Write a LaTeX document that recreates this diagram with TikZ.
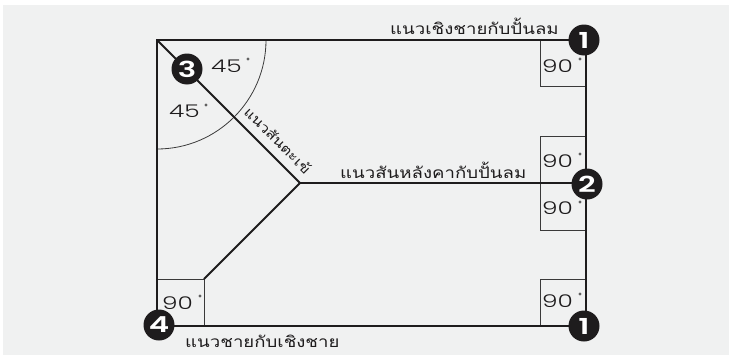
\documentclass[tikz,border=0pt]{standalone}
\usepackage{fontspec}
\setmainfont{Liberation Sans}
\newfontfamily\thaifont[Script=Thai,FakeStretch=1.2]{Loma}
\newfontfamily\numfont[FakeStretch=1.42]{Poppins Light}
\newfontfamily\badgefont[FakeStretch=1.4]{Poppins SemiBold}
\definecolor{bgpaper}{HTML}{F0F1F1}
\definecolor{inkline}{HTML}{1E1C1D}
\definecolor{thinline}{HTML}{3A3A3A}
\tikzset{
  roofline/.style={draw=inkline,line width=2.1pt},
  thin line/.style={draw=thinline,line width=0.8pt},
  thailabel/.style={font=\thaifont\fontsize{15.5}{16}\selectfont,text=inkline,inner sep=0pt},
  deg/.style={font=\numfont\fontsize{17.5}{18}\selectfont,text=inkline,inner sep=0pt},
  degmark/.style={circle,fill=thinline!80,minimum size=3.4pt,inner sep=0pt},
  badge/.style={circle,fill=inkline,text=white,minimum size=31pt,inner sep=0pt,font=\badgefont\fontsize{22}{22}\selectfont}
}
\begin{document}
\begin{tikzpicture}[x=1pt,y=-1pt]
\useasboundingbox (0,0) rectangle (729,359);
\fill[bgpaper] (3,5) rectangle (729,355);
% corners and junctions
\coordinate (tl) at (157,40);
\coordinate (tr) at (586,40);
\coordinate (br) at (586,326);
\coordinate (bl) at (157,326);
\coordinate (ridge) at (300,183);
\coordinate (mid) at (586,183);
\coordinate (valley) at (204,279);
% thin construction lines
\draw[thin line] (tl) ++(109,0) arc[start angle=0,end angle=90,radius=109];
\draw[thin line] (540,40) |- (586,86);
\draw[thin line] (540,183) |- (586,136);
\draw[thin line] (540,183) |- (586,230);
\draw[thin line] (540,326) |- (586,279);
\draw[thin line] (157,279) -| (204,326);
% heavy roof lines
\draw[roofline,line cap=round,line join=miter] (tl) -- (tr) -- (br) -- (bl) -- cycle;
\draw[roofline] (tl) -- (ridge);
\draw[roofline] (ridge) -- (mid);
\draw[roofline] (ridge) -- (valley);
% texts
\node[thailabel,anchor=base west] (t1) at (390,34) {แนวเชิงชายกับปั้นลม};
\node[thailabel,anchor=base west] (t2) at (340,178) {แนวสันหลังคากับปั้นลม};
\node[thailabel,anchor=base west] (t3) at (185,347) {แนวชายกับเชิงชาย};
\node[thailabel,font=\thaifont\fontsize{13.5}{14}\selectfont,anchor=center,rotate=-45] (t4) at (278,140) {แนวสันตะเข้};
% angles
\node[deg,anchor=base west] (a1) at (211,72) {45};
\node[degmark] (a1d) at (248,59) {};
\node[deg,anchor=base west] (a2) at (169,117) {45};
\node[degmark] (a2d) at (206,105) {};
\node[deg,anchor=base west] (r1) at (542,72) {90};
\node[degmark] (r1d) at (580,59) {};
\node[deg,anchor=base west] (r2) at (542,167) {90};
\node[degmark] (r2d) at (580,154) {};
\node[deg,anchor=base west] (r3) at (542,214) {90};
\node[degmark] (r3d) at (580,202) {};
\node[deg,anchor=base west] (r4) at (542,307) {90};
\node[degmark] (r4d) at (580,294) {};
\node[deg,anchor=base west] (r5) at (162,309) {90};
\node[degmark] (r5d) at (200,296) {};
% badges
\node[badge] (b1) at (584,40) {1};
\node[badge] (b2) at (587,184) {2};
\node[badge] (b3) at (187,69) {3};
\node[badge] (b4) at (159,325) {4};
\node[badge] (b5) at (584,326) {1};
\end{tikzpicture}
\end{document}
